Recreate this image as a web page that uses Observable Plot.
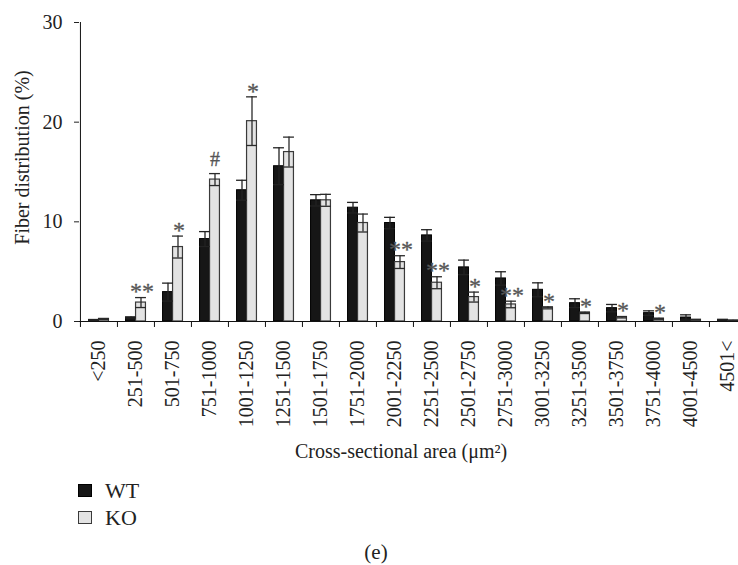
<!DOCTYPE html>
<html>
<head>
<meta charset="utf-8">
<script src="https://cdn.jsdelivr.net/npm/d3@7"></script>
<script src="https://cdn.jsdelivr.net/npm/@observablehq/plot@0.6"></script>
<style>
html, body { margin: 0; padding: 0; overflow: hidden; background: #fff; }
body { width: 738px; height: 565px; font-family: "Liberation Serif", serif; color: #222; }
#legend { margin-top: 9px; padding-left: 78px; }
.row { height: 27px; display: flex; align-items: center; font-size: 22px; }
.sw { width: 12px; height: 11px; border: 1px solid #111; margin-right: 13px; }
#cap { margin-top: 11px; height: 20px; line-height: 20px; font-size: 21px; text-align: center; padding-left: 14px; }
</style>
</head>
<body>
<div id="chart"></div>
<div id="legend"></div>
<div id="cap">(e)</div>
<script>
const categories = ["<250","251-500","501-750","751-1000","1001-1250","1251-1500","1501-1750","1751-2000","2001-2250","2251-2500","2501-2750","2751-3000","3001-3250","3251-3500","3501-3750","3751-4000","4001-4500","4501<"];
const wt     = [0.15, 0.4, 2.95, 8.27, 13.17, 15.58, 12.16, 11.42, 9.88, 8.64, 5.43, 4.32, 3.18, 1.84, 1.34, 0.84, 0.4, 0.17];
const wtErr  = [0.05, 0.05, 0.9, 0.75, 1.0, 1.85, 0.57, 0.53, 0.57, 0.57, 0.73, 0.67, 0.7, 0.44, 0.37, 0.23, 0.27, 0.03];
const ko     = [0.25, 1.9, 7.47, 14.24, 20.1, 17.0, 12.16, 9.88, 5.96, 3.89, 2.45, 1.71, 1.37, 0.87, 0.43, 0.27, 0.17, 0.1];
const koErr  = [0.05, 0.5, 1.1, 0.6, 2.44, 1.5, 0.6, 0.9, 0.64, 0.6, 0.5, 0.33, 0.1, 0.07, 0.07, 0.05, 0.03, 0.02];
const sig    = ["", "**", "*", "#", "*", "", "", "", "**", "**", "*", "**", "*", "*", "*", "*", "", ""];
const yTicks = [0, 10, 20, 30];
const series = ["WT", "KO"];
const xTitle = "Cross-sectional area (μm²)";
const yTitle = "Fiber distribution (%)";

const colors = {WT: {fill: "#161616", stroke: "#000"}, KO: {fill: "#e3e3e3", stroke: "#3a3a3a"}};
const rows = categories.map((c, i) => ({cat: c, wt: wt[i], wtErr: wtErr[i], ko: ko[i], koErr: koErr[i], sig: sig[i]}));

const bw = 37.1, x0 = 79, H = 468, bar = 10, cap = 5.5;
const font = "Liberation Serif";

const plot = Plot.plot({
  width: 738, height: H,
  marginTop: 22, marginBottom: H - 321, marginLeft: x0, marginRight: 0,
  style: {fontFamily: font, fontSize: "20px", color: "#222", background: "white"},
  x: {type: "band", domain: categories, range: [x0, x0 + bw * categories.length], padding: 0},
  y: {domain: [0, 30]},
  marks: [
    Plot.barY(rows, {x: "cat", y: "wt", fill: colors.WT.fill, stroke: colors.WT.stroke, strokeWidth: 1, insetLeft: bw/2 - bar, insetRight: bw/2}),
    Plot.barY(rows, {x: "cat", y: "ko", fill: colors.KO.fill, stroke: colors.KO.stroke, strokeWidth: 1.2, insetLeft: bw/2, insetRight: bw/2 - bar}),
    // WT error bars
    Plot.ruleX(rows, {x: "cat", y1: d => Math.max(0, d.wt - d.wtErr), y2: d => d.wt + d.wtErr, dx: -bar/2, stroke: "#222", strokeWidth: 1.3}),
    Plot.tickY(rows, {x: "cat", y: d => d.wt + d.wtErr, dx: -bar/2, insetLeft: bw/2 - cap, insetRight: bw/2 - cap, stroke: "#222", strokeWidth: 1.3}),
    Plot.tickY(rows, {x: "cat", y: d => Math.max(0, d.wt - d.wtErr), dx: -bar/2, insetLeft: bw/2 - cap, insetRight: bw/2 - cap, stroke: "#222", strokeWidth: 1.3}),
    // KO error bars
    Plot.ruleX(rows, {x: "cat", y1: d => Math.max(0, d.ko - d.koErr), y2: d => d.ko + d.koErr, dx: bar/2, stroke: "#2a2a2a", strokeWidth: 1.3}),
    Plot.tickY(rows, {x: "cat", y: d => d.ko + d.koErr, dx: bar/2, insetLeft: bw/2 - cap, insetRight: bw/2 - cap, stroke: "#2a2a2a", strokeWidth: 1.3}),
    Plot.tickY(rows, {x: "cat", y: d => Math.max(0, d.ko - d.koErr), dx: bar/2, insetLeft: bw/2 - cap, insetRight: bw/2 - cap, stroke: "#2a2a2a", strokeWidth: 1.3}),
    // significance markers
    Plot.text(rows.filter(d => d.sig && d.sig !== "#"), {x: "cat", y: d => d.ko + d.koErr, text: "sig", dx: 6, dy: -6, fill: "#555", stroke: "#555", strokeWidth: 0.3, fontSize: 24, fontFamily: font}),
    Plot.text(rows.filter(d => d.sig === "#"), {x: "cat", y: d => d.ko + d.koErr, text: "sig", dx: 5, dy: -14, fill: "#555", stroke: "#555", strokeWidth: 0.3, fontSize: 20, fontFamily: font}),
    // axis lines and boundary ticks
    Plot.ruleY([0], {stroke: "#111", strokeWidth: 1}),
    Plot.ruleX([categories[0]], {x: d => d, y1: 0, y2: 30, dx: -bw/2, stroke: "#111", strokeWidth: 1}),
    Plot.ruleX(categories, {x: d => d, y1: 0, y2: -0.6, dx: -bw/2, stroke: "#111", strokeWidth: 1}),
    Plot.axisY({ticks: yTicks, tickSize: 5, tickPadding: 12, label: null, fontSize: 20, fontFamily: font, fill: "#222"}),
    Plot.axisX({tickSize: 0, tickPadding: 19, tickRotate: -90, label: null, fontSize: 20, fontFamily: font, fill: "#222"}),
    // titles
    Plot.text([yTitle], {text: d => d, frameAnchor: "left", textAnchor: "middle", lineAnchor: "middle", rotate: -90, dx: -57, dy: -14.5, fontSize: 20, fontFamily: font, fill: "#222"}),
    Plot.text([xTitle], {text: d => d, frameAnchor: "bottom", textAnchor: "middle", lineAnchor: "middle", dx: -8, dy: 130, fontSize: 20, fontFamily: font, fill: "#222"})
  ]
});
document.getElementById("chart").appendChild(plot);

const legend = document.getElementById("legend");
for (const s of series) {
  const row = document.createElement("div");
  row.className = "row";
  const sw = document.createElement("span");
  sw.className = "sw";
  sw.style.background = colors[s].fill;
  sw.style.borderColor = colors[s].stroke;
  row.appendChild(sw);
  row.appendChild(document.createTextNode(s));
  legend.appendChild(row);
}
</script>
</body>
</html>
